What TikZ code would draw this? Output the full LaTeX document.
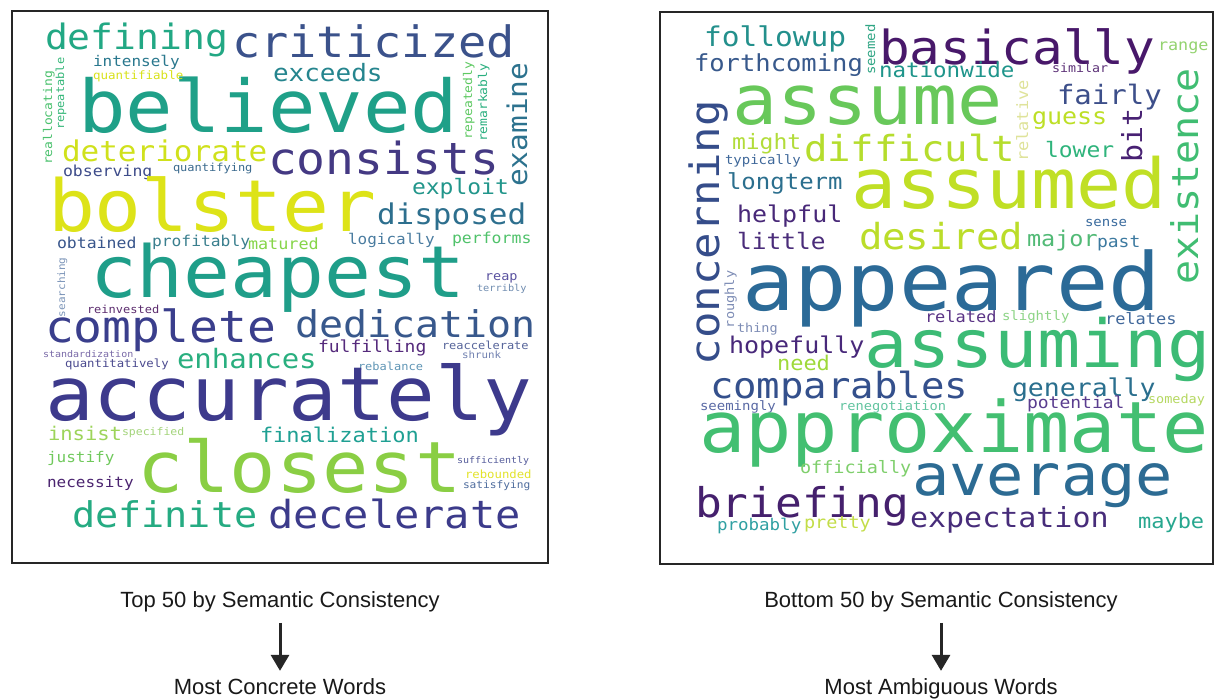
\documentclass[tikz,border=0pt]{standalone}
\usepackage{graphicx}
\usepackage{fontspec}
\setmainfont{Liberation Sans}
\setmonofont{DejaVu Sans Mono}
\usetikzlibrary{arrows.meta}
% \cw[angle]{x}{baseline y}{size}{hex colour}{word}
\newcommand{\cw}[6][0]{\node[word,rotate=#1] (w#6) at (#2,#3) {\color[HTML]{#5}\fontsize{#4}{#4}\selectfont\scalebox{1}[0.92]{#6}};}
\tikzset{
  word/.style={anchor=base west,inner sep=0pt,outer sep=0pt,font=\ttfamily},
  frame/.style={draw=black!85,line width=2pt},
  caption/.style={anchor=base,inner sep=0pt,font=\fontsize{22}{22}\selectfont,text=black!90},
  arr/.style={-{Triangle[width=18pt,length=16pt]},line width=3pt,draw=black!85}
}
\begin{document}
\begin{tikzpicture}[x=1pt,y=-1pt]
\useasboundingbox (0,0) rectangle (1214,700);
\fill[white] (0,0) rectangle (1214,700);

% ---------- left cloud ----------
\draw[frame] (12,11) rectangle (548,563);
\cw{45}{50}{38}{22A884}{defining}
\cw{232}{58}{47}{3B528B}{criticized}
\cw{78}{133}{79}{1FA088}{believed}
\cw{273}{82}{26}{25858E}{exceeds}
\cw{93}{67}{16}{2A788E}{intensely}
\cw{93}{80}{12.5}{D8E219}{quantifiable}
\cw[90]{52}{165}{13}{4AC16D}{reallocating}
\cw[90]{64}{130}{12}{35B779}{repeatable}
\cw{62}{162}{31}{D0E11C}{deteriorate}
\cw{268}{175}{48}{443983}{consists}
\cw[90]{527}{187}{29.5}{2C728E}{examine}
\cw[90]{472}{140}{13}{5EC962}{repeatedly}
\cw[90]{487}{142}{13}{29AF7F}{remarkably}
\cw{63}{177}{16.5}{3E4C8A}{observing}
\cw{173}{172}{12}{3B6A8E}{quantifying}
\cw{412}{195}{23}{22968B}{exploit}
\cw{48}{232}{78}{DDE318}{bolster}
\cw{377}{225}{31}{2D6F8E}{disposed}
\cw{57}{249}{16.5}{39568C}{obtained}
\cw{152}{247}{16.3}{3A7F8E}{profitably}
\cw{248}{250}{16.8}{86D549}{matured}
\cw{348}{245}{16}{4A7CA0}{logically}
\cw{452}{244}{16.5}{4FC26A}{performs}
\cw{90}{298}{78}{1F9E89}{cheapest}
\cw[90]{65}{317}{11}{7B94B8}{searching}
\cw{485}{280}{13.5}{5A52A0}{reap}
\cw{477}{292}{10.3}{6F8CB0}{terribly}
\cw{87}{313}{12}{5C2C6E}{reinvested}
\cw{45}{342}{48}{3A3E8C}{complete}
\cw{295}{337}{40}{38588C}{dedication}
\cw{43}{357}{10}{7A6AA8}{standardization}
\cw{177}{368}{29}{29AF7F}{enhances}
\cw{65}{367}{12.3}{4B4A8F}{quantitatively}
\cw{318}{352}{18}{552A7C}{fulfilling}
\cw{442}{349}{12}{56649A}{reaccelerate}
\cw{462}{358}{10.8}{7080B0}{shrunk}
\cw{358}{370}{12}{5F95B5}{rebalance}
\cw{45}{420}{81}{3D3A8C}{accurately}
\cw{48}{440}{20.5}{9DD45A}{insist}
\cw{122}{435}{11.5}{A3D47A}{specified}
\cw{260}{442}{22}{1FA093}{finalization}
\cw{137}{492}{77}{8ACE44}{closest}
\cw{47}{462}{16}{70C95C}{justify}
\cw{47}{487}{16}{4B2470}{necessity}
\cw{457}{463}{10}{575E9C}{sufficiently}
\cw{465}{478}{12.3}{E3E32A}{rebounded}
\cw{463}{488}{11.2}{4F6D9E}{satisfying}
\cw{72}{527}{38.5}{25AB82}{definite}
\cw{268}{528}{42}{3C3B8B}{decelerate}

% ---------- right cloud ----------
\draw[frame] (660,12) rectangle (1213,564);
\cw{704}{47}{29.5}{23908C}{followup}
\cw{694}{72}{25.5}{38598C}{forthcoming}
\cw[90]{875}{75}{14}{2FA584}{seemed}
\cw{879}{65}{51}{48186A}{basically}
\cw{879}{78}{22.5}{1F958B}{nationwide}
\cw{1052}{73}{13.3}{5D3278}{similar}
\cw{1158}{51}{16.8}{93D36F}{range}
\cw{732}{125}{75}{68C85A}{assume}
\cw{1057}{105}{29}{3D4F8A}{fairly}
\cw[90]{1028}{162}{17}{DFE39A}{relative}
\cw{1032}{125}{25}{BDDF26}{guess}
\cw[90]{1198}{285}{40}{40BD72}{existence}
\cw[90]{1142}{163}{30}{482173}{bit}
\cw{1045}{158}{23}{2FB47C}{lower}
\cw[90]{719}{365}{44}{354D8A}{concerning}
\cw{732}{150}{23}{B2DC3A}{might}
\cw{804}{162}{39}{B5DD2D}{difficult}
\cw{725}{165}{14}{3F689A}{typically}
\cw{727}{190}{24}{2B6F8E}{longterm}
\cw{851}{209}{75}{C0DF25}{assumed}
\cw{737}{223}{25}{482878}{helpful}
\cw{737}{250}{24.5}{4A2C7A}{little}
\cw{859}{250}{39}{BBDD2A}{desired}
\cw{1027}{247}{23.5}{52BA76}{major}
\cw{1085}{227}{14}{3A6B9E}{sense}
\cw{1097}{248}{18}{3D7AA0}{past}
\cw{742}{310}{87}{2B6A97}{appeared}
\cw[90]{734}{328}{13.6}{7D8CB5}{roughly}
\cw{737}{332}{13.5}{7D8CB5}{thing}
\cw{925}{323}{17}{5B3486}{related}
\cw{1002}{320}{14}{8DD486}{slightly}
\cw{1105}{324}{17}{41689B}{relates}
\cw{864}{367}{72}{3CBB75}{assuming}
\cw{729}{353}{25}{48287A}{hopefully}
\cw{777}{370}{22}{9ED93A}{need}
\cw{710}{398}{39}{34508C}{comparables}
\cw{1012}{396}{26.5}{2A6F8E}{generally}
\cw{700}{410}{14}{5A6AA5}{seemingly}
\cw{839}{410}{13.7}{62C4A0}{renegotiation}
\cw{1027}{408}{18}{5A3D8F}{potential}
\cw{1148}{403}{13.5}{B5D860}{someday}
\cw{699}{452}{77}{43BF71}{approximate}
\cw{800}{473}{18.5}{7FCF6C}{officially}
\cw{912}{495}{62}{2C6B93}{average}
\cw{695}{517}{44.5}{45206D}{briefing}
\cw{910}{527}{30}{472C7A}{expectation}
\cw{1138}{528}{22}{27A78F}{maybe}
\cw{717}{530}{17.5}{30A0A2}{probably}
\cw{804}{528}{18.5}{C3DD48}{pretty}

% ---------- captions and arrows ----------
\node[caption] (capL) at (280,607) {Top 50 by Semantic Consistency};
\node[caption] (capR) at (941,607) {Bottom 50 by Semantic Consistency};
\node[caption] (labL) at (280,694) {Most Concrete Words};
\node[caption] (labR) at (941,694) {Most Ambiguous Words};
\draw[arr,shorten <=11pt,shorten >=7pt] (capL.south) -- (labL.north);
\draw[arr,shorten <=11pt,shorten >=7pt] (capR.south) -- (labR.north);
\end{tikzpicture}
\end{document}
